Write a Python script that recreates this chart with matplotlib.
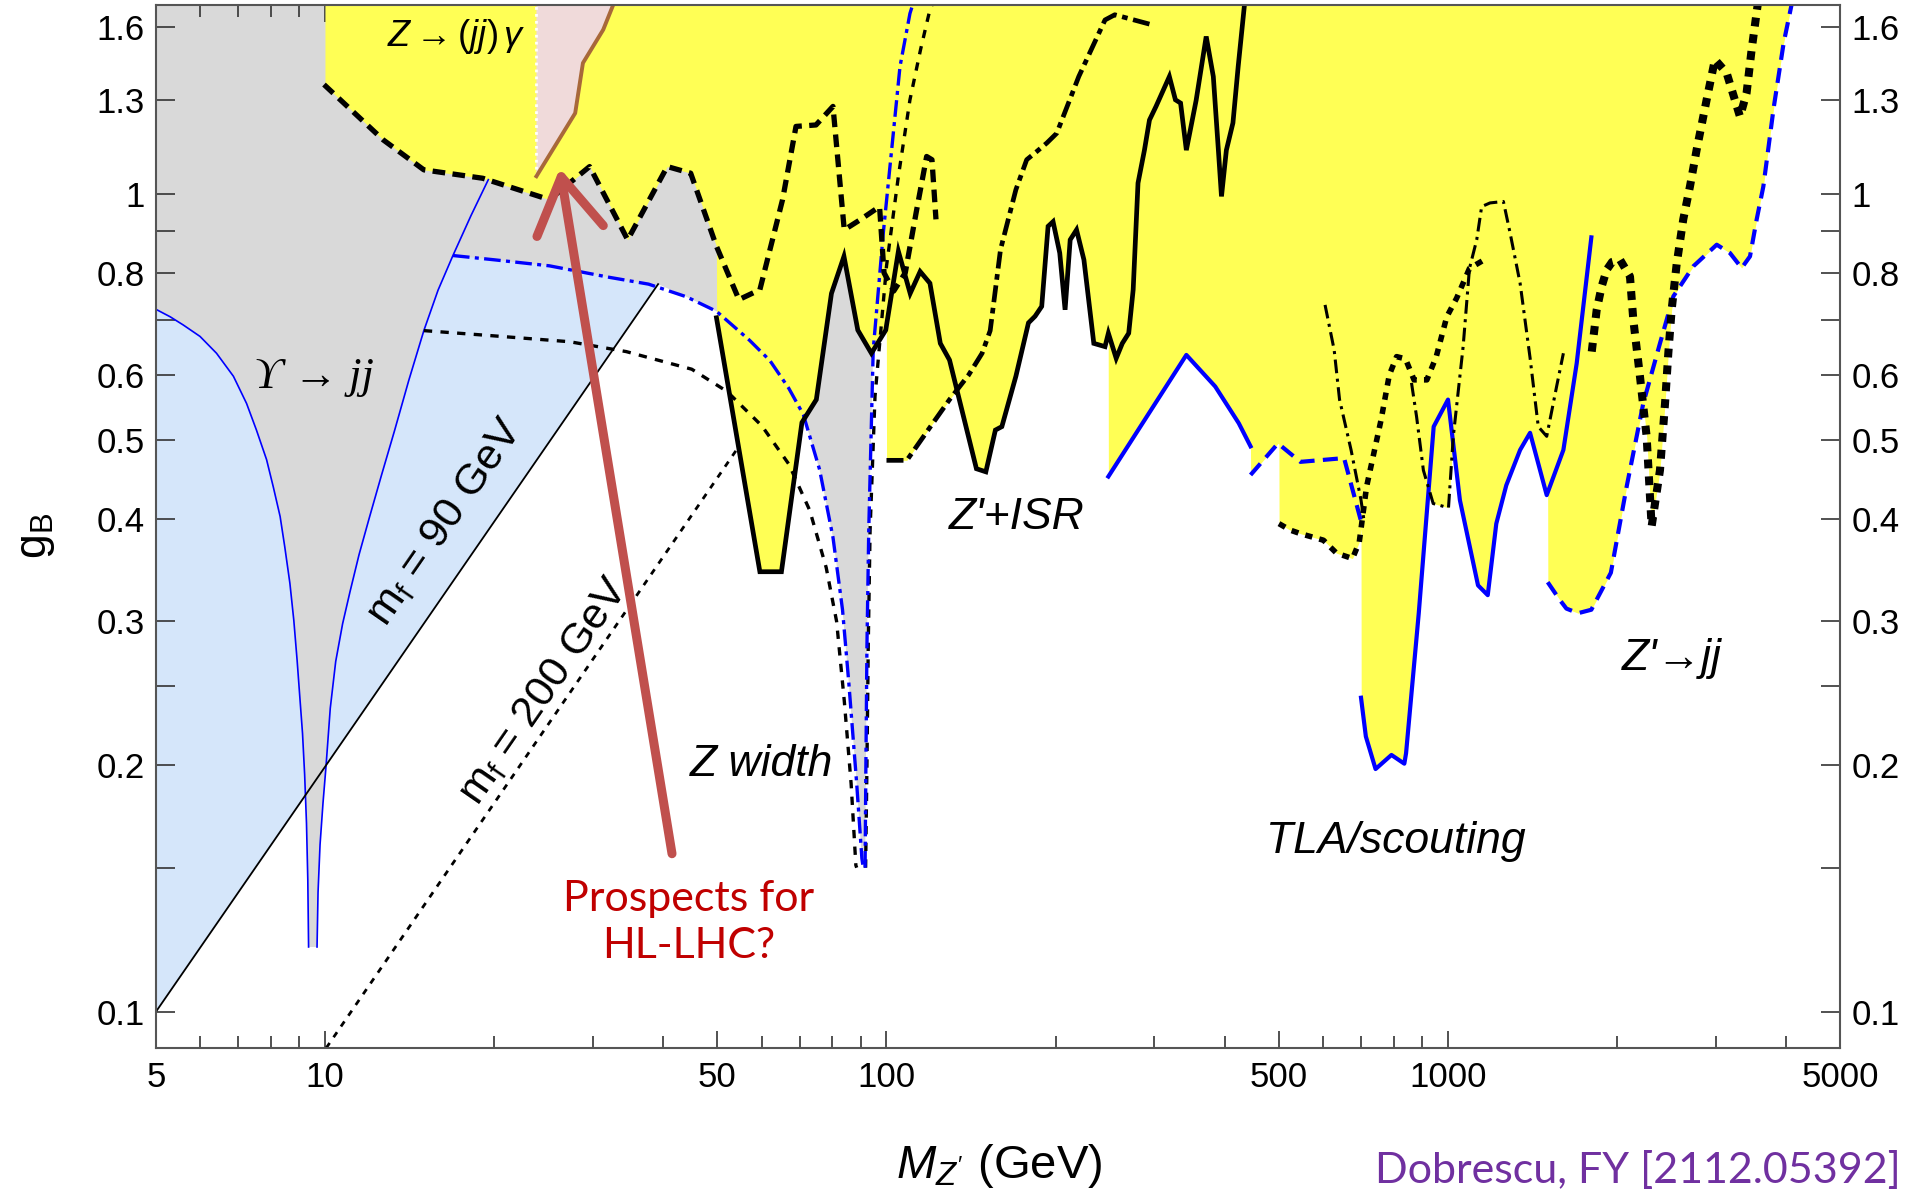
import numpy as np
import matplotlib
matplotlib.use('Agg')
import matplotlib.pyplot as plt
from matplotlib.ticker import FixedLocator, FixedFormatter, NullFormatter

plt.rcParams['font.family'] = ['Liberation Sans', 'DejaVu Sans']
plt.rcParams['mathtext.fontset'] = 'custom'
plt.rcParams['mathtext.rm'] = 'Liberation Sans'
plt.rcParams['mathtext.it'] = 'Liberation Sans:italic'

# ---------------------------------------------------------------
# curves: Z' mass (GeV) vs coupling g_B
# ---------------------------------------------------------------
ups_left_M = [5.0, 5.30, 5.59, 5.99, 6.41, 6.87, 7.25, 7.55, 7.87, 8.09, 8.32, 8.48, 8.66, 8.80, 8.92,
              9.03, 9.12, 9.20, 9.27, 9.32, 9.35]
ups_left_g = [0.722, 0.707, 0.691, 0.669, 0.638, 0.598, 0.554, 0.514, 0.473, 0.438, 0.403, 0.370, 0.334,
              0.301, 0.269, 0.240, 0.219, 0.195, 0.170, 0.145, 0.120]
ups_right_M = [9.68, 9.72, 9.80, 9.92, 10.04, 10.22, 10.45, 10.75, 11.08, 11.5, 12.0, 12.6, 13.3, 14.1,
               15.0, 15.9, 16.9, 18.2, 19.54]
ups_right_g = [0.120, 0.140, 0.160, 0.180, 0.199, 0.235, 0.268, 0.298, 0.326, 0.362, 0.402, 0.452, 0.513,
               0.591, 0.680, 0.762, 0.840, 0.940, 1.04]

# Z width (blue dash-dot and black dotted)
zwb_left_M = [16.9, 20.0, 25.1, 32.1, 37.7, 44.0, 49.8, 57.0, 62.0, 67.0, 71.1, 76.0, 80.3, 83.5, 85.7, 88.5, 90.4, 90.9]
zwb_left_g = [0.840, 0.830, 0.816, 0.790, 0.775, 0.748, 0.718, 0.662, 0.625, 0.578, 0.537, 0.46, 0.380, 0.31, 0.252, 0.19, 0.154, 0.150]
zwb_right_M = [91.6, 91.9, 92.3, 93.0, 94.7, 98.7, 105.7, 110.1, 111.3]
zwb_right_g = [0.150, 0.20, 0.28, 0.39, 0.644, 0.895, 1.43, 1.66, 1.70]
zwk_left_M = [15.0, 20.0, 27.3, 34.4, 38.1, 45.0, 52.0, 60.0, 67.0, 73.0, 78.1, 81.5, 84.1, 86.5, 88.2, 88.5]
zwk_left_g = [0.680, 0.670, 0.659, 0.641, 0.629, 0.61, 0.573, 0.52, 0.467, 0.41, 0.349, 0.30, 0.240, 0.19, 0.151, 0.150]
zwk_right_M = [91.8, 92.3, 92.8, 93.5, 95.4, 100.0, 105.0, 110.1, 115.0, 119.5, 120.5]
zwk_right_g = [0.150, 0.20, 0.281, 0.388, 0.565, 0.815, 1.05, 1.302, 1.50, 1.678, 1.70]

# fermion mass lines
m90_M = [5.0, 39.2]
m90_g = [0.1, 0.775]
m200_M = [10.05, 54.5]
m200_g = [0.0903, 0.49]

# Z -> (jj) gamma
zjg_M = [9.96, 12.7, 15.0, 19.1, 25.1, 29.6, 34.6, 40.7, 44.8, 49.8, 54.6, 59.5, 65.3, 69.0, 74.9,
         80.3, 84.1, 90.0, 97.2, 99.0, 103.0, 108.0, 113.0, 117.9, 120.5, 122.5]
zjg_g = [1.359, 1.163, 1.069, 1.044, 0.983, 1.079, 0.878, 1.079, 1.059, 0.862, 0.742, 0.763, 0.983, 1.208, 1.213,
         1.278, 0.903, 0.93, 0.964, 0.80, 0.76, 0.80, 0.95, 1.11, 1.10, 0.93]

# Z' + ISR (black solid)
isr_M = [49.8, 59.5, 65.0, 70.7, 75.0, 79.8, 84.0, 88.9, 94.0, 99.7, 105.0, 110.2, 114.8, 119.5, 124.7,
         129.5, 134.8, 144.6, 150.3, 156.3, 160.5, 170.0, 179.0, 183.9, 189.0, 194.0, 198.0, 203.5, 208.0,
         212.4, 218.0, 224.7, 234.0, 245.0, 248.4, 256.5, 263.0, 270.0, 275.0, 280.5, 288.0, 294.0, 302.0,
         319.0, 327.0, 334.0, 342.0, 356.0, 371.0, 382.0, 390.0, 395.0, 403.0, 414.0, 423.0, 434.0]
isr_g = [0.705, 0.345, 0.345, 0.525, 0.56, 0.755, 0.838, 0.681, 0.638, 0.681, 0.85, 0.755, 0.803, 0.777, 0.656,
         0.626, 0.56, 0.461, 0.457, 0.514, 0.519, 0.598, 0.695, 0.708, 0.728, 0.912, 0.924, 0.846, 0.721,
         0.878, 0.903, 0.83, 0.656, 0.65, 0.675, 0.629, 0.656, 0.675, 0.763, 1.03, 1.13, 1.23, 1.278,
         1.39, 1.302, 1.29, 1.13, 1.30, 1.556, 1.39, 1.13, 0.992, 1.13, 1.22, 1.43, 1.70]
# Z' + ISR (black dash-dot)
isrdd_M = [100.0, 108.7, 120.0, 129.5, 140.0, 148.0, 153.0, 159.6, 170.0, 177.7, 185.0, 193.0, 201.0,
           220.0, 245.0, 255.0, 297.0]
isrdd_g = [0.472, 0.472, 0.52, 0.56, 0.60, 0.638, 0.68, 0.854, 1.011, 1.10, 1.125, 1.153, 1.185,
           1.39, 1.63, 1.654, 1.608]

# TLA / scouting (blue solid) and dijet (blue dashed)
tla1_M = [248.4, 342.0, 385.0, 424.0, 445.0]
tla1_g = [0.451, 0.635, 0.581, 0.524, 0.491]
bdm_M = [445.0, 498.0, 546.0, 653.0, 704.0]
bdm_g = [0.453, 0.495, 0.470, 0.475, 0.392]
tla2_M = [700, 714, 743, 793, 836, 842, 887, 943, 1000, 1050, 1131, 1177, 1219, 1270, 1344, 1400,
          1499, 1605, 1695, 1800]
tla2_g = [0.242, 0.217, 0.198, 0.206, 0.201, 0.207, 0.307, 0.519, 0.560, 0.422, 0.332, 0.323, 0.395,
          0.44, 0.486, 0.510, 0.428, 0.486, 0.620, 0.884]
bdz_M = [1505, 1580, 1625, 1705, 1800, 1950, 2080, 2227, 2385, 2520, 2735, 3010, 3178, 3334, 3450,
         3545, 3644, 3800, 3960, 4090]
bdz_g = [0.335, 0.319, 0.311, 0.307, 0.310, 0.344, 0.438, 0.554, 0.656, 0.749, 0.815, 0.866, 0.846,
         0.811, 0.838, 0.929, 1.02, 1.27, 1.527, 1.70]

# dijet limits (black dotted / thin dash-dot)
tda_M = [500, 523, 546, 600, 633, 676, 695, 716, 760, 786, 810, 840, 870, 917, 953, 995, 1036, 1092, 1160, 1172]
tda_g = [0.395, 0.388, 0.384, 0.377, 0.3635, 0.358, 0.375, 0.438, 0.529, 0.60, 0.632, 0.628, 0.592, 0.592,
         0.632, 0.707, 0.745, 0.81, 0.83, 0.83]
tdb_M = [604, 627, 641, 672, 700, 708]
tdb_g = [0.731, 0.644, 0.56, 0.486, 0.422, 0.40]
tdc_M = [861, 879, 904, 941, 1002, 1022, 1064, 1092, 1125, 1148, 1188, 1255, 1290, 1344, 1400, 1448,
         1499, 1561, 1605]
tdc_g = [0.587, 0.534, 0.459, 0.418, 0.413, 0.505, 0.650, 0.81, 0.878, 0.964, 0.974, 0.978, 0.895,
         0.777, 0.63, 0.519, 0.505, 0.581, 0.638]
tdr_M = [1803, 1840, 1878, 1917, 1960, 2025, 2109, 2138, 2197, 2258, 2305, 2337, 2385, 2435, 2468,
         2502, 2554, 2624, 2697, 2772, 2888, 2988, 3135, 3311, 3402, 3473, 3560]
tdr_g = [0.641, 0.721, 0.770, 0.807, 0.825, 0.830, 0.792, 0.701, 0.598, 0.505, 0.392, 0.418, 0.459,
         0.554, 0.638, 0.721, 0.82, 0.93, 1.02, 1.131, 1.302, 1.458, 1.404, 1.242, 1.327, 1.499, 1.70]

# HL-LHC prospect (pink region edge)
hl_M = [23.8, 27.9, 28.8, 31.3, 32.6]
hl_g = [1.05, 1.254, 1.444, 1.586, 1.70]

# arrow tail / tip
arrow_tail = (41.5, 0.156)
arrow_tip = (26.2, 1.074)

x_major = [5, 10, 50, 100, 500, 1000, 5000]
x_minor = [6, 7, 8, 9, 20, 30, 40, 60, 70, 80, 90, 200, 300, 400, 600, 700, 800, 900, 2000, 3000, 4000]
y_major = [0.1, 0.2, 0.3, 0.4, 0.5, 0.6, 0.8, 1.0, 1.3, 1.6]
y_major_labels = ['0.1', '0.2', '0.3', '0.4', '0.5', '0.6', '0.8', '1', '1.3', '1.6']
y_minor = [0.15, 0.25, 0.7, 0.9]

YLO, YHI = 0.0903, 1.70

YELLOW = '#FFFF55'
GRAY = '#D9D9D9'
LBLUE = '#D5E6FA'
PINK = '#F0DADA'
BLUE = '#0000FF'


def a(v):
    return np.asarray(v, dtype=float)


def on_grid(m, g, grid):
    # log-log interpolation, +inf outside the curve's range
    out = np.interp(np.log10(grid), np.log10(a(m)), np.log10(a(g)), left=np.inf, right=np.inf)
    return np.power(10.0, out)


fig = plt.figure(figsize=(19.11, 11.95), dpi=100)
ax = fig.add_axes([0.0816, 0.1230, 0.8815, 0.8728])
ax.set_xscale('log')
ax.set_yscale('log')
ax.set_xlim(5, 5000)
ax.set_ylim(YLO, YHI)

# ---- gray (Z width excluded) ----
zbl_M, zbl_g = a(zwb_left_M), a(zwb_left_g)
keep = zbl_M >= m90_M[1]
zbr_M, zbr_g = a(zwb_right_M), a(zwb_right_g)
kr = zbr_g <= 0.66
gx = [m90_M[0], m90_M[1]] + list(zbl_M[keep]) + list(zbr_M[kr]) + [zbr_M[kr][-1], m90_M[0]]
gy = [m90_g[0], m90_g[1]] + list(zbl_g[keep]) + list(zbr_g[kr]) + [YHI, YHI]
ax.fill(gx, gy, color=GRAY, lw=0, zorder=1)

# ---- light blue ----
ur_M, ur_g = a(ups_right_M), a(ups_right_g)
ul_M, ul_g = a(ups_left_M), a(ups_left_g)
mb = (zbl_M > zwb_left_M[0]) & (zbl_M < m90_M[1])
mr = (ur_M <= zwb_left_M[0]) & (ur_g >= 0.2)
ml = ul_g >= 0.2
lbx = [m90_M[0], m90_M[1]] + list(zbl_M[mb][::-1]) + list(ur_M[mr][::-1]) + list(ul_M[ml][::-1])
lby = [m90_g[0], m90_g[1]] + list(zbl_g[mb][::-1]) + list(ur_g[mr][::-1]) + list(ul_g[ml][::-1])
ax.fill(lbx, lby, color=LBLUE, lw=0, zorder=1.1)

# ---- Upsilon wedge ----
wx = list(ul_M) + list(ur_M) + [ur_M[-1], ul_M[0]]
wy = list(ul_g) + list(ur_g) + [YHI, YHI]
ax.fill(wx, wy, color=GRAY, lw=0, zorder=1.2)

# ---- yellow: excluded above the lowest limit ----
grid = np.logspace(1.0, np.log10(4089.9), 8000)
floor = np.minimum.reduce([
    on_grid(zjg_M, zjg_g, grid), on_grid(isr_M, isr_g, grid), on_grid(isrdd_M, isrdd_g, grid),
    on_grid(tla1_M, tla1_g, grid), on_grid(bdm_M, bdm_g, grid), on_grid(tda_M, tda_g, grid),
    on_grid(tla2_M, tla2_g, grid), on_grid(tdc_M, tdc_g, grid), on_grid(bdz_M, bdz_g, grid),
    on_grid(tdr_M, tdr_g, grid)])
floor = np.minimum(floor, YHI)
ax.fill_between(grid, floor, YHI, color=YELLOW, lw=0, zorder=2)

# ---- HL-LHC pink ----
px = [hl_M[0]] + hl_M
py = [YHI] + hl_g
ax.fill(px, py, color=PINK, lw=0, zorder=2.1)
ax.plot([hl_M[0], hl_M[0]], [hl_g[0], YHI], color='white', lw=2, ls=(0, (1, 1.5)), zorder=2.2)
ax.plot(hl_M, hl_g, color='#A8683A', lw=2.8, zorder=3)

# ---- thin curves ----
ax.plot(ups_left_M, ups_left_g, color=BLUE, lw=1.2, zorder=3)
ax.plot(ups_right_M, ups_right_g, color=BLUE, lw=1.2, zorder=3)
ax.plot(m90_M, m90_g, color='black', lw=1.3, zorder=3)
ax.plot(m200_M, m200_g, color='black', lw=2.0, dashes=(2.2, 2.5), zorder=3)
ax.plot(zwk_left_M, zwk_left_g, color='black', lw=2.4, dashes=(2.5, 2.5), zorder=3)
ax.plot(zwk_right_M, zwk_right_g, color='black', lw=2.4, dashes=(2.5, 2.5), zorder=3)
ax.plot(zwb_left_M, zwb_left_g, color=BLUE, lw=2.4, dashes=(5, 1.6, 1.2, 1.6), zorder=3.1)
ax.plot(zwb_right_M, zwb_right_g, color=BLUE, lw=2.4, dashes=(5, 1.6, 1.2, 1.6), zorder=3.1)

# ---- experimental limits ----
ax.plot(zjg_M, zjg_g, color='black', lw=3.8, dashes=(2.4, 1.4), zorder=4)
ax.plot(isr_M, isr_g, color='black', lw=3.4, solid_joinstyle='miter', zorder=4)
ax.plot(isrdd_M, isrdd_g, color='black', lw=3.4, dashes=(3.6, 1.2, 1.2, 1.2), zorder=4)
ax.plot(tla1_M, tla1_g, color=BLUE, lw=3.0, zorder=4)
ax.plot(tla2_M, tla2_g, color=BLUE, lw=3.0, zorder=4)
ax.plot(bdm_M, bdm_g, color=BLUE, lw=3.0, dashes=(3.6, 2.0), zorder=4)
ax.plot(bdz_M, bdz_g, color=BLUE, lw=3.0, dashes=(3.6, 2.0), zorder=4)
ax.plot(tda_M, tda_g, color='black', lw=4.0, dashes=(1.3, 1.3), zorder=4)
ax.plot(tdb_M, tdb_g, color='black', lw=2.2, dashes=(4.5, 1.8, 1.0, 1.8), zorder=4)
ax.plot(tdc_M, tdc_g, color='black', lw=2.2, dashes=(4.5, 1.8, 1.0, 1.8), zorder=4)
ax.plot(tdr_M, tdr_g, color='black', lw=5.8, dashes=(1.1, 1.0), zorder=4)

# ---- arrow & labels ----
ax.annotate('', xy=arrow_tip, xytext=arrow_tail,
            arrowprops=dict(arrowstyle='->,head_length=0.9,head_width=0.55', color='#C0504D',
                            lw=6.5, mutation_scale=44, shrinkA=0, shrinkB=0,
                            capstyle='round', joinstyle='round'), zorder=6)
ax.text(44.4, 0.1285, 'Prospects for\nHL-LHC?', color='#C00000', fontsize=31, family=['Lato', 'DejaVu Sans'],
        ha='center', va='center', linespacing=1.3, zorder=6)

ax.text(17.1, 1.557, r'$Z\rightarrow(jj)\,\gamma$', fontsize=26, ha='center', va='center', zorder=6)
ax.text(9.57, 0.596, '\u03d2 \u2192 jj', fontsize=32, style='italic',
        family=['Liberation Serif', 'DejaVu Serif'], ha='center', va='center', zorder=6)
ax.text(16.4, 0.397, r'm$_{\mathrm{f}}$ = 90 GeV', fontsize=31, rotation=55.3, rotation_mode='anchor',
        ha='center', va='center', zorder=6)
ax.text(24.6, 0.2466, r'm$_{\mathrm{f}}$ = 200 GeV', fontsize=31, rotation=55.3, rotation_mode='anchor',
        ha='center', va='center', zorder=6)
for tx, ty, s in [(60, 0.2007, 'Z width'), (170.4, 0.4015, "Z'+ISR"),
                  (806, 0.1616, 'TLA/scouting'), (2506, 0.2705, "Z'\u2192jj")]:
    ax.text(tx, ty, s, fontsize=32, style='italic', ha='center', va='center', zorder=6)

# ---- axes styling ----
for sp in ax.spines.values():
    sp.set_color('#555555')
    sp.set_linewidth(1.5)
    sp.set_zorder(10)
ax.xaxis.set_major_locator(FixedLocator(x_major))
ax.xaxis.set_major_formatter(FixedFormatter([str(v) for v in x_major]))
ax.xaxis.set_minor_locator(FixedLocator(x_minor))
ax.xaxis.set_minor_formatter(NullFormatter())
ax.yaxis.set_major_locator(FixedLocator(y_major))
ax.yaxis.set_major_formatter(FixedFormatter(y_major_labels))
ax.yaxis.set_minor_locator(FixedLocator(y_minor))
ax.yaxis.set_minor_formatter(NullFormatter())
ax.tick_params(axis='x', which='both', direction='in', top=True, bottom=True, colors='#333333',
               labelsize=25, pad=9, width=1.2)
ax.tick_params(axis='x', which='major', length=12)
ax.tick_params(axis='x', which='minor', length=8.5)
ax.tick_params(axis='y', which='both', direction='in', left=True, right=True, labelleft=True,
               labelright=True, colors='#333333', labelsize=25, pad=8, width=1.2, length=14)
for lab in ax.get_xticklabels() + ax.get_yticklabels():
    lab.set_color('black')

fig.text(0.5228, 0.0243, r"$M_{Z'}$ (GeV)", fontsize=34, ha='center', va='center')
fig.text(0.0191, 0.5515, r'g$_{\mathrm{B}}$', fontsize=32, rotation=90, ha='center', va='center')
fig.text(0.9948, 0.0209, 'Dobrescu, FY [2112.05392]', color='#7030A0', fontsize=31,
         family=['Lato', 'DejaVu Sans'], ha='right', va='center')

fig.savefig('out.png', dpi=100)
